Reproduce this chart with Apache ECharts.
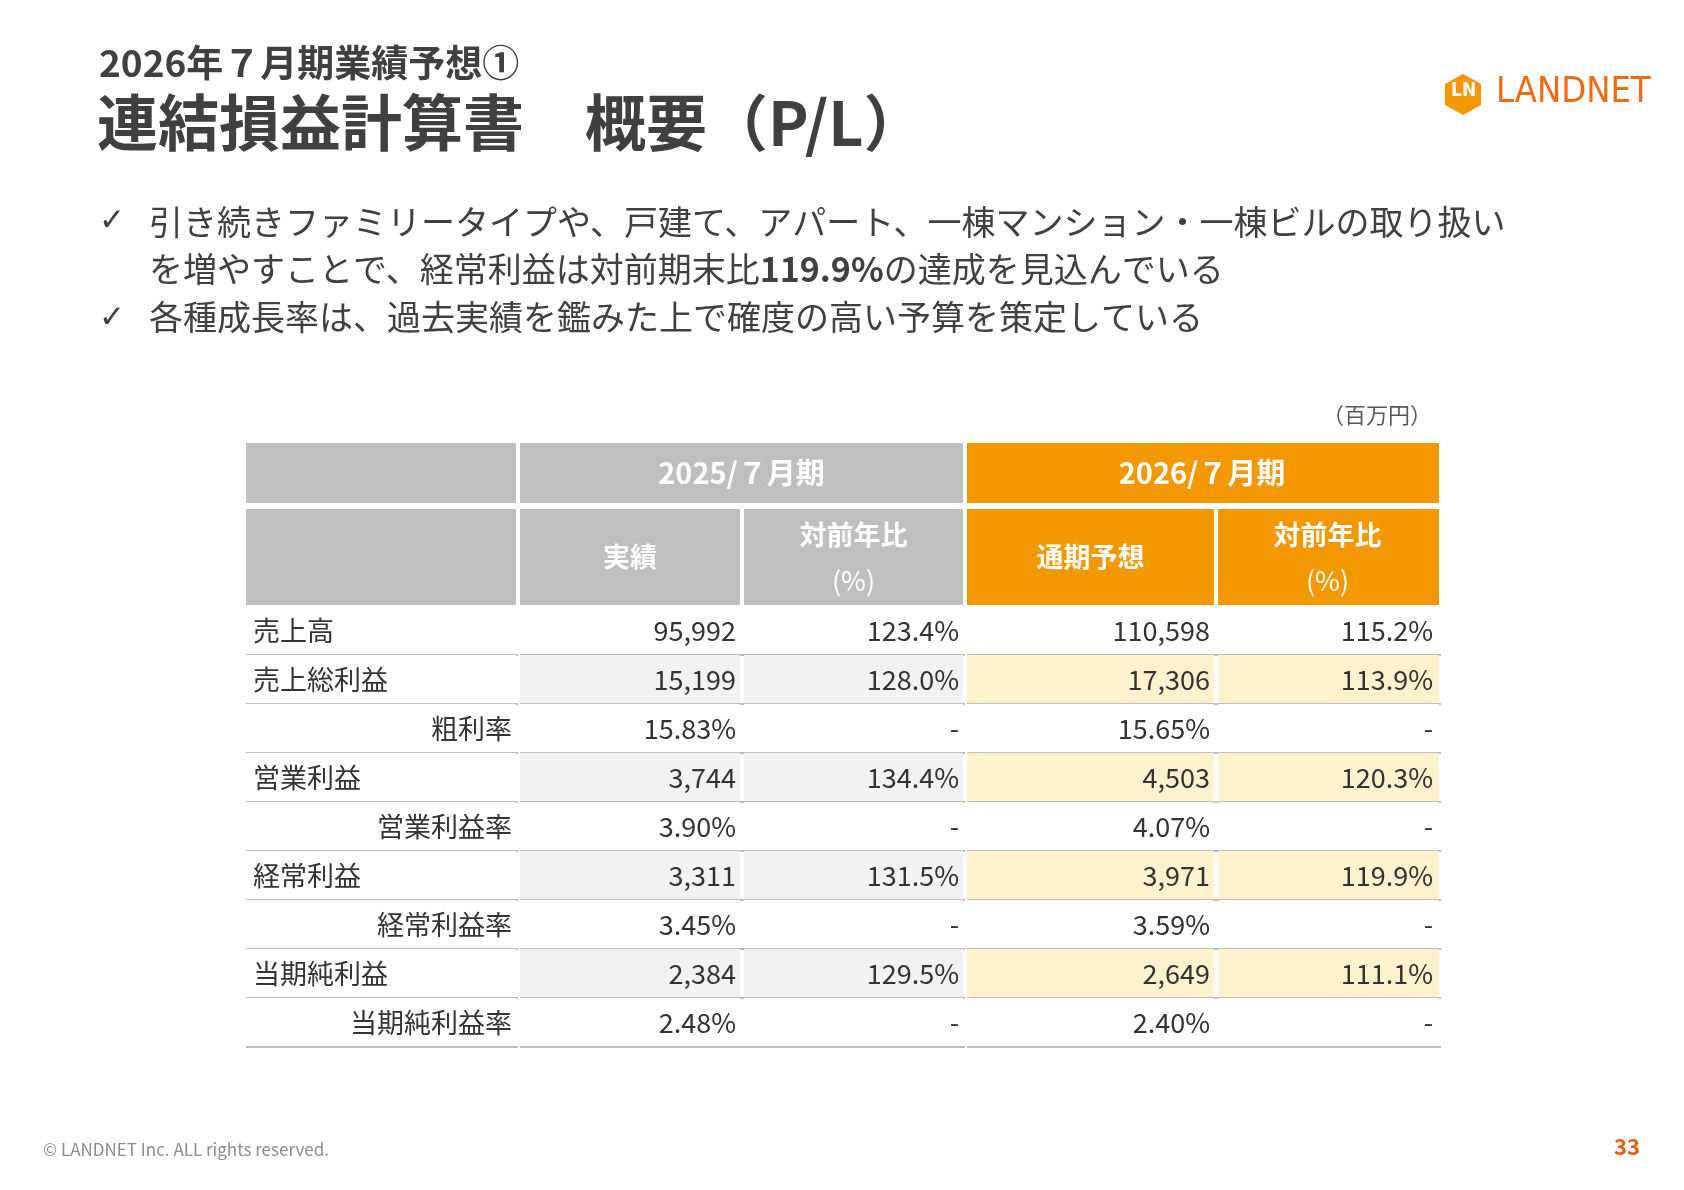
<!DOCTYPE html>
<html><head><meta charset="utf-8">
<script src="https://cdn.jsdelivr.net/npm/echarts@6/dist/echarts.min.js"></script>
<style>html,body{margin:0;padding:0;background:#fff}#c{width:1684px;height:1190px}</style>
</head><body><div id="c"></div>
<script>
const rowLabels = ['売上高','売上総利益','粗利率','営業利益','営業利益率','経常利益','経常利益率','当期純利益','当期純利益率'];
const isSubRow = [false,false,true,false,true,false,true,false,true];
const actual2025 = ['95,992','15,199','15.83%','3,744','3.90%','3,311','3.45%','2,384','2.48%'];
const yoy2025 = ['123.4%','128.0%','-','134.4%','-','131.5%','-','129.5%','-'];
const forecast2026 = ['110,598','17,306','15.65%','4,503','4.07%','3,971','3.59%','2,649','2.40%'];
const yoy2026 = ['115.2%','113.9%','-','120.3%','-','119.9%','-','111.1%','-'];
const periodHeaders = ['2025/７月期','2026/７月期'];
const subHeaders = ['実績','対前年比\n(%)','通期予想','対前年比\n(%)'];

const FONT = '"Noto Sans CJK JP","Noto Sans",sans-serif';
const colEdges = [0,272,496,719,970,1193];
const H1 = [0,60], H2 = [66,162], R0 = 163, RH = 49;
const GRAY='#bfbfbf', ORANGE='#f39800', LGRAY='#f2f2f2', CREAM='#fff2cc', TXT='#333333';

const cells = [];
cells.push(['h',0,1,H1[0],H1[1],'',GRAY]);
cells.push(['h',0,1,H2[0],H2[1],'',GRAY]);
cells.push(['h',1,3,H1[0],H1[1],periodHeaders[0],GRAY]);
cells.push(['h',3,5,H1[0],H1[1],periodHeaders[1],ORANGE]);
subHeaders.forEach((t,i)=>cells.push(['s',i+1,i+2,H2[0],H2[1],t,i<2?GRAY:ORANGE]));
const cols = [actual2025,yoy2025,forecast2026,yoy2026];
rowLabels.forEach((lab,r)=>{
  const y0 = R0 + r*RH, y1 = y0+RH, shade = (r%2===1);
  cells.push(['l',0,1,y0,y1,lab,'#fff',isSubRow[r]?1:0]);
  cols.forEach((arr,i)=>cells.push(['v',i+1,i+2,y0,y1,arr[r],shade?(i<2?LGRAY:CREAM):'#fff']));
});

function renderItem(params, api){
  const d = cells[params.dataIndex];
  const [type,c0,c1,r0,r1,text,fill,sub] = d;
  const p0 = api.coord([colEdges[c0], r0]), p1 = api.coord([colEdges[c1], r1]);
  const x=p0[0], y=p0[1], w=p1[0]-p0[0], h=p1[1]-p0[1];
  const ch = [];
  const gapL = c0===0?0:2, gapR = c1===5?0:2;
  ch.push({type:'rect',shape:{x:x+gapL,y:y,width:w-gapL-gapR,height:h},style:{fill:fill}});
  if(type==='h'){
    ch.push({type:'text',style:{x:x+w/2,y:y+h/2,text:text,fill:'#fff',font:'bold 29px '+FONT,align:'center',verticalAlign:'middle'}});
  } else if(type==='s'){
    const parts = text.split('\n');
    if(parts.length===1) ch.push({type:'text',style:{x:x+w/2,y:y+h/2,text:text,fill:'#fff',font:'bold 27px '+FONT,align:'center',verticalAlign:'middle'}});
    else {
      ch.push({type:'text',style:{x:x+w/2,y:y+h*0.27,text:parts[0],fill:'#fff',font:'bold 27px '+FONT,align:'center',verticalAlign:'middle'}});
      ch.push({type:'text',style:{x:x+w/2,y:y+h*0.75,text:parts[1],fill:'#fff',font:'27px '+FONT,align:'center',verticalAlign:'middle'}});
    }
  } else {
    const right = (type==='v') || sub;
    ch.push({type:'text',style:{x:right?x+w-6:x+7,y:y+h/2,text:text,fill:TXT,font:'27px '+FONT,align:right?'right':'left',verticalAlign:'middle'}});
    ch.push({type:'rect',shape:{x:x+gapL,y:y+h-1,width:w-(c1===3?2:0),height:2},style:{fill:'#bdbdbd'}});
  }
  return {type:'group',children:ch};
}

const chart = echarts.init(document.getElementById('c'),null,{renderer:'canvas'});
chart.setOption({
  backgroundColor:'#fff',
  animation:false,
  grid:{left:246,top:443,width:1193,height:605},
  xAxis:{type:'value',min:0,max:1193,show:false},
  yAxis:{type:'value',min:0,max:605,inverse:true,show:false},
  series:[{type:'custom',renderItem:renderItem,data:cells.map((c,i)=>[i]),encode:{x:0,y:0}}],
  graphic:[
    {type:'text',left:99,top:44,style:{text:'2026年７月期業績予想①',font:'bold 37px '+FONT,fill:'#404040'}},
    {type:'text',left:97,top:92,style:{text:'連結損益計算書　概要（P/L）',font:'bold 61px '+FONT,fill:'#404040'}},
    {type:'polygon',shape:{points:[[1463,74],[1481,84],[1481,105],[1463,115],[1445,105],[1445,84]]},style:{fill:'#f39800'}},
    {type:'text',left:1451,top:82,style:{text:'LN',font:'bold 19px "DejaVu Sans Condensed"',fill:'#fff'}},
    {type:'text',left:1496,top:75,style:{text:'LANDNET',font:'36px "DejaVu Sans Condensed",sans-serif',fill:'#f26a10'}},
    {type:'text',left:99,top:206,style:{text:'✓',font:'31px "DejaVu Sans"',fill:'#404040'}},
    {type:'text',left:149,top:205,style:{text:'引き続きファミリータイプや、戸建て、アパート、一棟マンション・一棟ビルの取り扱い',font:'34px '+FONT,fill:'#404040'}},
    {type:'text',left:149,top:252,style:{rich:{a:{font:'34px '+FONT,fill:'#404040'},b:{font:'bold 34px '+FONT,fill:'#404040'}},text:'{a|を増やすことで、経常利益は対前期末比}{b|119.9%}{a|の達成を見込んでいる}'}},
    {type:'text',left:99,top:303,style:{text:'✓',font:'31px "DejaVu Sans"',fill:'#404040'}},
    {type:'text',left:149,top:300,style:{text:'各種成長率は、過去実績を鑑みた上で確度の高い予算を策定している',font:'34px '+FONT,fill:'#404040'}},
    {type:'text',right:252,top:404,style:{text:'（百万円）',font:'22px '+FONT,fill:'#595959'}},
    {type:'text',left:43,top:1141,style:{text:'© LANDNET Inc. ALL rights reserved.',font:'17px '+FONT,fill:'#8c8c8c'}},
    {type:'text',right:44,top:1136,style:{text:'33',font:'bold 22px '+FONT,fill:'#e8600c'}}
  ]
});
</script></body></html>
